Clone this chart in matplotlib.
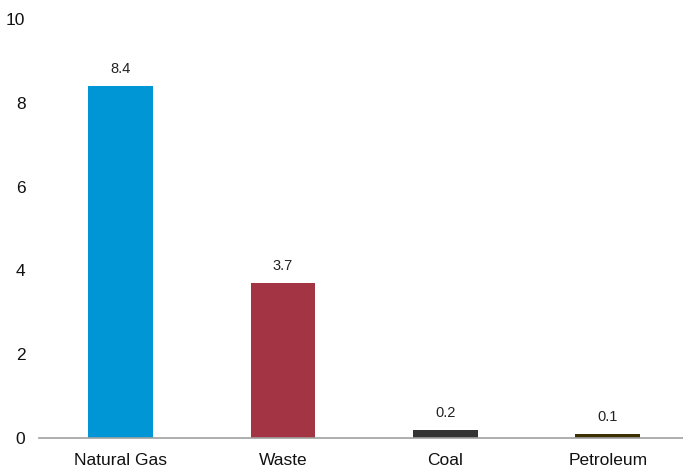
import matplotlib.pyplot as plt

plt.rcParams['font.family'] = ['Liberation Sans', 'DejaVu Sans']

categories = ['Natural Gas', 'Waste', 'Coal', 'Petroleum']
values = [8.4, 3.7, 0.2, 0.1]
colors = ['#0096D6', '#A33444', '#333333', '#3D3000']

fig = plt.figure(figsize=(6.83, 4.76), dpi=100)
ax = fig.add_axes([0.0575, 0.0798, 0.9516, 0.880])

x = range(len(categories))
bars = ax.bar(x, values, width=0.4, color=colors)
for b, v in zip(bars, values):
    ax.annotate('%.1f' % v, (b.get_x() + b.get_width() / 2, v),
                xytext=(0, 7), textcoords='offset points',
                ha='center', va='bottom', fontsize=10.5, color='#222222')

ax.set_xlim(-0.5, len(categories) - 0.5)
ax.set_ylim(0, 10)
ax.set_yticks([0, 2, 4, 6, 8, 10])
ax.set_xticks(list(x))
ax.set_xticklabels(categories)
ax.tick_params(length=0, labelsize=12.5, colors='#111111')
ax.tick_params(axis='x', pad=11)
ax.tick_params(axis='y', pad=10)
for s in ['top', 'right', 'left']:
    ax.spines[s].set_visible(False)
ax.spines['bottom'].set_color('#A0A0A0')
ax.spines['bottom'].set_linewidth(1.2)

plt.savefig('out.png', dpi=100)
